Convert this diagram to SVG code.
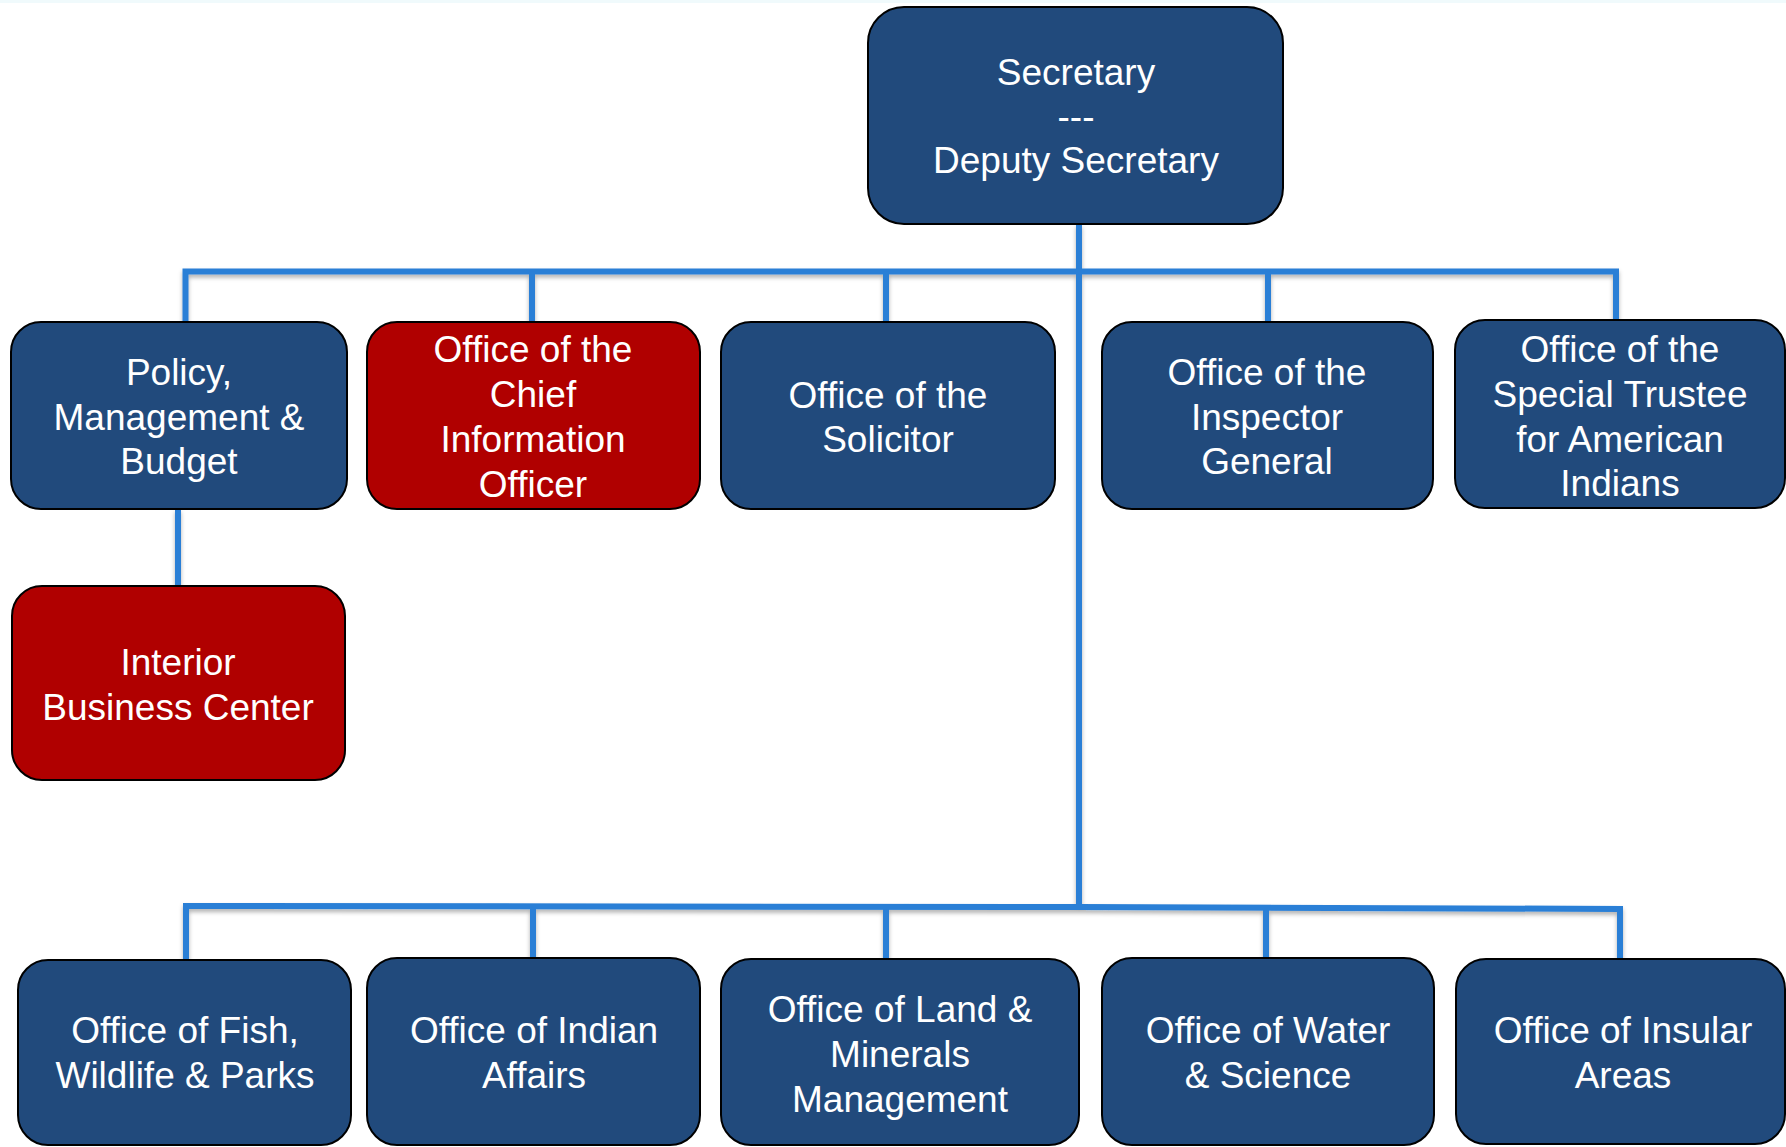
<svg xmlns="http://www.w3.org/2000/svg" width="1786" height="1147" viewBox="0 0 1786 1147">
  <defs>
    <style>
      .blue { fill: #214A7C; stroke: #000; stroke-width: 2; }
      .red { fill: #B00000; stroke: #000; stroke-width: 2; }
      .lbl { font-family: "Liberation Sans", Arial, sans-serif; font-size: 37px; fill: #fff; text-anchor: middle; }
      .conn { stroke: #2A7FD6; stroke-width: 6; fill: none; stroke-linecap: butt; }
    </style>
    <filter id="sh" x="-5%" y="-20%" width="110%" height="150%">
      <feDropShadow dx="0" dy="3" stdDeviation="2" flood-color="#000" flood-opacity="0.3"/>
    </filter>
  </defs>
  <rect x="0" y="0" width="1786" height="1147" fill="#fff"/>
  <rect x="0" y="0" width="1786" height="3" fill="#F0FAFC"/>

  <g id="connectors" filter="url(#sh)">
    <line class="conn" x1="1079" y1="224" x2="1079" y2="909"/>
    <polyline class="conn" points="185.5,322 185.5,271.5 1616,271.5 1616,320"/>
    <line class="conn" x1="532" y1="271.5" x2="532" y2="322"/>
    <line class="conn" x1="886" y1="271.5" x2="886" y2="322"/>
    <line class="conn" x1="1268" y1="271.5" x2="1268" y2="322"/>
    <line class="conn" x1="178" y1="509" x2="178" y2="586"/>
    <polyline class="conn" points="186,960 186,906 1079,907 1620,909 1620,959"/>
    <line class="conn" x1="533" y1="906" x2="533" y2="958"/>
    <line class="conn" x1="886" y1="907" x2="886" y2="959"/>
    <line class="conn" x1="1266" y1="908" x2="1266" y2="958"/>
  </g>

  <g id="secretary">
    <rect class="blue" x="868" y="7" width="415" height="217" rx="36"/>
    <text class="lbl" x="1076" y="85">Secretary</text>
    <text class="lbl" x="1076" y="129">---</text>
    <text class="lbl" x="1076" y="173">Deputy Secretary</text>
  </g>

  <g id="pmb">
    <rect class="blue" x="11" y="322" width="336" height="187" rx="30"/>
    <text class="lbl" x="179" y="385">Policy,</text>
    <text class="lbl" x="179" y="430">Management &amp;</text>
    <text class="lbl" x="179" y="474">Budget</text>
  </g>

  <g id="ocio">
    <rect class="red" x="367" y="322" width="333" height="187" rx="30"/>
    <text class="lbl" x="533" y="362">Office of the</text>
    <text class="lbl" x="533" y="407">Chief</text>
    <text class="lbl" x="533" y="452">Information</text>
    <text class="lbl" x="533" y="497">Officer</text>
  </g>

  <g id="solicitor">
    <rect class="blue" x="721" y="322" width="334" height="187" rx="30"/>
    <text class="lbl" x="888" y="408">Office of the</text>
    <text class="lbl" x="888" y="452">Solicitor</text>
  </g>

  <g id="oig">
    <rect class="blue" x="1102" y="322" width="331" height="187" rx="30"/>
    <text class="lbl" x="1267" y="385">Office of the</text>
    <text class="lbl" x="1267" y="430">Inspector</text>
    <text class="lbl" x="1267" y="474">General</text>
  </g>

  <g id="ost">
    <rect class="blue" x="1455" y="320" width="330" height="188" rx="30"/>
    <text class="lbl" x="1620" y="362">Office of the</text>
    <text class="lbl" x="1620" y="407">Special Trustee</text>
    <text class="lbl" x="1620" y="452">for American</text>
    <text class="lbl" x="1620" y="496">Indians</text>
  </g>

  <g id="ibc">
    <rect class="red" x="12" y="586" width="333" height="194" rx="30"/>
    <text class="lbl" x="178" y="675">Interior</text>
    <text class="lbl" x="178" y="720">Business Center</text>
  </g>

  <g id="fwp">
    <rect class="blue" x="18" y="960" width="333" height="185" rx="30"/>
    <text class="lbl" x="185" y="1043">Office of Fish,</text>
    <text class="lbl" x="185" y="1088">Wildlife &amp; Parks</text>
  </g>

  <g id="oia">
    <rect class="blue" x="367" y="958" width="333" height="187" rx="30"/>
    <text class="lbl" x="534" y="1043">Office of Indian</text>
    <text class="lbl" x="534" y="1088">Affairs</text>
  </g>

  <g id="lmm">
    <rect class="blue" x="721" y="959" width="358" height="186" rx="30"/>
    <text class="lbl" x="900" y="1022">Office of Land &amp;</text>
    <text class="lbl" x="900" y="1067">Minerals</text>
    <text class="lbl" x="900" y="1112">Management</text>
  </g>

  <g id="ows">
    <rect class="blue" x="1102" y="958" width="332" height="187" rx="30"/>
    <text class="lbl" x="1268" y="1043">Office of Water</text>
    <text class="lbl" x="1268" y="1088">&amp; Science</text>
  </g>

  <g id="oina">
    <rect class="blue" x="1456" y="959" width="329" height="185" rx="30"/>
    <text class="lbl" x="1623" y="1043">Office of Insular</text>
    <text class="lbl" x="1623" y="1088">Areas</text>
  </g>
</svg>
